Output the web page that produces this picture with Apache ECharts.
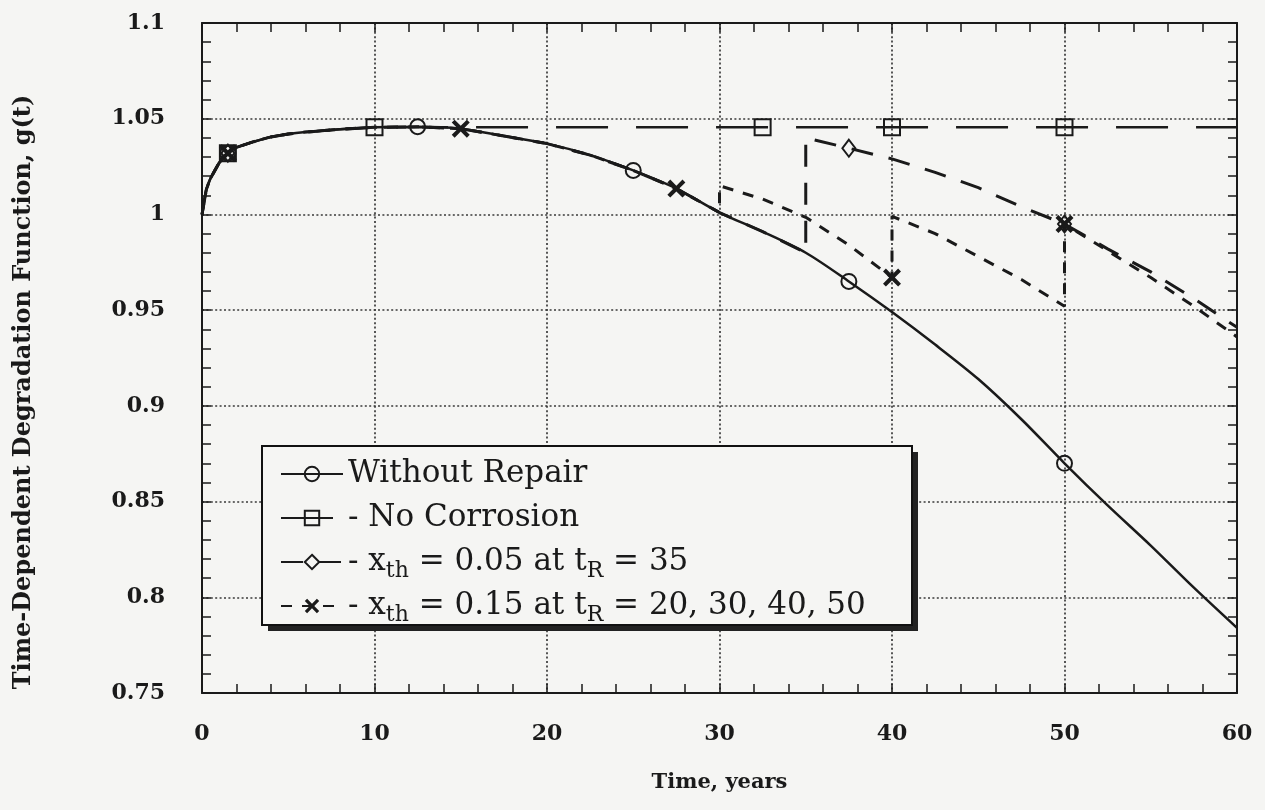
<!DOCTYPE html>
<html><head><meta charset="utf-8">
<script src="https://cdn.jsdelivr.net/npm/echarts@6/dist/echarts.min.js"></script>
<style>html,body{margin:0;padding:0;background:#f5f5f3}#c{width:1265px;height:810px}</style>
</head><body><div id="c"></div><script>
// ---- data ----
const timeYears = [0,0.25,0.5,1,1.5,2,3,4,5,6,8,10,12.5,15,17.5,20,22.5,25,27.5,30,32.5,35,37.5,40,42.5,45,47.5,50,52.5,55,57.5,60];
const gWithoutRepair = [1.0,1.013,1.019,1.027,1.032,1.035,1.038,1.0405,1.042,1.043,1.0445,1.0455,1.0458,1.0448,1.041,1.037,1.031,1.023,1.0135,1.001,0.991,0.980,0.965,0.949,0.932,0.914,0.893,0.870,0.848,0.827,0.805,0.784];

const noCorrosionTimes = [0,0.25,0.5,1,1.5,2,3,4,5,6,8,10,32.5,40,50,60];
const gNoCorrosion = [1.0,1.013,1.019,1.027,1.032,1.035,1.038,1.0405,1.042,1.043,1.0445,1.0455,1.0455,1.0455,1.0455,1.0455];

const repair005Start = 35;
const repair005Times = [35,37.5,40,42.5,45,47.5,50,52.5,55,57.5,60];
const gRepair005 = [1.040,1.0346,1.029,1.022,1.014,1.004,0.995,0.982,0.970,0.956,0.941];

const repair015Start = 30;
const repair015Times = [30,32.5,35,37.5,40,40,42.5,45,47.5,50,50,52.5,55,57.5,60];
const gRepair015 = [1.015,1.008,0.9985,0.984,0.967,0.999,0.990,0.978,0.966,0.952,0.995,0.981,0.967,0.952,0.936];

// marker locations (t, occurrence index for repeated t)
const markersWithout = [{t:1.5},{t:12.5},{t:25},{t:37.5},{t:50}];
const markersNoCorr = [{t:1.5},{t:10},{t:32.5},{t:40},{t:50}];
const markers005 = [{t:1.5},{t:37.5},{t:50}];
const markers015 = [{t:1.5},{t:15},{t:27.5},{t:40,n:0},{t:50,n:1}];

const seriesNames = ['Without Repair','No Corrosion','xth = 0.05 at tR = 35','xth = 0.15 at tR = 20, 30, 40, 50'];
const legendRich = {
  'Without Repair': '{t|Without Repair}',
  'No Corrosion': '{t|- No Corrosion}',
  'xth = 0.05 at tR = 35': '{t|- x}{s|th}{t| = 0.05 at t}{s|R}{t| = 35}',
  'xth = 0.15 at tR = 20, 30, 40, 50': '{t|- x}{s|th}{t| = 0.15 at t}{s|R}{t| = 20, 30, 40, 50}'
};
const xTitle = 'Time, years';
const yTitle = 'Time-Dependent Degradation Function, g(t)';

// ---- build ----
function withRepair(startT, tailT, tailG) {
  const t = [], g = [];
  timeYears.forEach((x, i) => { if (x <= startT) { t.push(x); g.push(gWithoutRepair[i]); } });
  return { t: t.concat(tailT), g: g.concat(tailG) };
}
function points(times, values, markers) {
  const seen = {};
  return times.map((t, i) => {
    seen[t] = seen[t] === undefined ? 0 : seen[t] + 1;
    const occ = seen[t];
    const m = markers.find(mk => mk.t === t && (mk.n || 0) === occ);
    return m ? { value: [t, values[i]] } : { value: [t, values[i]], symbol: 'none' };
  });
}
const s005 = withRepair(repair005Start, repair005Times, gRepair005);
const s015 = withRepair(repair015Start, repair015Times, gRepair015);

const ink = '#1a1a1a';
const bg = '#f5f5f3';
const fontF = 'DejaVu Serif';
const XSYM = 'path://M0,1.6 L1.6,0 L5,3.4 L8.4,0 L10,1.6 L6.6,5 L10,8.4 L8.4,10 L5,6.6 L1.6,10 L0,8.4 L3.4,5 Z';

function mkX(pos, main) {
  return {
    type: 'value', min: 0, max: 60, interval: 10, position: pos,
    axisLine: { show: true, onZero: false, lineStyle: { color: ink, width: 2 } },
    axisTick: { show: true, inside: true, length: 9, lineStyle: { color: ink, width: 1.5 } },
    minorTick: { show: true, splitNumber: 5, length: 9, lineStyle: { color: ink, width: 1.5 } },
    splitLine: { show: main, lineStyle: { color: '#3a3a3a', width: 1.7, type: [2, 2.4] } },
    axisLabel: { show: main, margin: 30, fontFamily: fontF, fontWeight: 'bold', fontSize: 22, color: ink },
    name: main ? xTitle : '', nameLocation: 'middle', nameGap: 79,
    nameTextStyle: { fontFamily: fontF, fontWeight: 'bold', fontSize: 21, color: ink }
  };
}
function mkY(pos, main) {
  return {
    type: 'value', min: 0.75, max: 1.1, interval: 0.05, position: pos,
    axisLine: { show: true, onZero: false, lineStyle: { color: ink, width: 2 } },
    axisTick: { show: true, inside: true, length: 9, lineStyle: { color: ink, width: 1.5 } },
    minorTick: { show: true, splitNumber: 5, length: 9, lineStyle: { color: ink, width: 1.5 } },
    splitLine: { show: main, lineStyle: { color: '#3a3a3a', width: 1.7, type: [2, 2.4] } },
    axisLabel: { show: main, margin: 37, fontFamily: fontF, fontWeight: 'bold', fontSize: 22, color: ink },
    name: main ? yTitle : '', nameLocation: 'middle', nameGap: 166, nameRotate: 90,
    nameTextStyle: { fontFamily: fontF, fontWeight: 'bold', fontSize: 24, color: ink, padding: [0, 68, 0, 0] }
  };
}
const hollow = { color: 'rgba(0,0,0,0)', borderColor: ink, borderWidth: 2 };

const option = {
  animation: false,
  backgroundColor: bg,
  grid: { left: 202, right: 28, top: 23, bottom: 117 },
  xAxis: [mkX('bottom', true), mkX('top', false)],
  yAxis: [mkY('left', true), mkY('right', false)],
  graphic: [
    { type: 'rect', z: 1, shape: { x: 268, y: 452, width: 650, height: 179 }, style: { fill: '#222' } },
    { type: 'rect', z: 2, shape: { x: 262, y: 446, width: 650, height: 179 }, style: { fill: bg, stroke: '#111', lineWidth: 2 } }
  ],
  legend: {
    z: 10, orient: 'vertical', left: 275, top: 449, itemWidth: 62, itemHeight: 18, itemGap: 4,
    selectedMode: false, data: seriesNames,
    formatter: name => legendRich[name],
    textStyle: {
      fontFamily: fontF, fontSize: 31, lineHeight: 40, color: ink,
      rich: {
        t: { fontFamily: fontF, fontSize: 31, lineHeight: 40, color: ink },
        s: { fontFamily: fontF, fontSize: 22, lineHeight: 22, verticalAlign: 'bottom', color: ink }
      }
    }
  },
  series: [
    { name: seriesNames[0], type: 'line', z: 5, showSymbol: true, showAllSymbol: true,
      smooth: 0.3,
      symbol: 'circle', symbolSize: 15, itemStyle: hollow,
      lineStyle: { color: ink, width: 2.5, type: 'solid' },
      data: points(timeYears, gWithoutRepair, markersWithout) },
    { name: seriesNames[1], type: 'line', z: 4, showSymbol: true, showAllSymbol: true,
      symbol: 'rect', symbolSize: 16, itemStyle: hollow,
      lineStyle: { color: ink, width: 2.5, type: [52, 28] },
      data: points(noCorrosionTimes, gNoCorrosion, markersNoCorr) },
    { name: seriesNames[2], type: 'line', z: 4, showSymbol: true, showAllSymbol: true,
      symbol: 'diamond', symbolSize: [13, 17], itemStyle: hollow,
      lineStyle: { color: ink, width: 3, type: [22, 16] },
      data: points(s005.t, s005.g, markers005) },
    { name: seriesNames[3], type: 'line', z: 4, showSymbol: true, showAllSymbol: true,
      symbol: XSYM, symbolSize: 18, itemStyle: { color: ink },
      lineStyle: { color: ink, width: 3, type: [11, 10] },
      data: points(s015.t, s015.g, markers015) }
  ]
};
echarts.init(document.getElementById('c')).setOption(option);
</script></body></html>
